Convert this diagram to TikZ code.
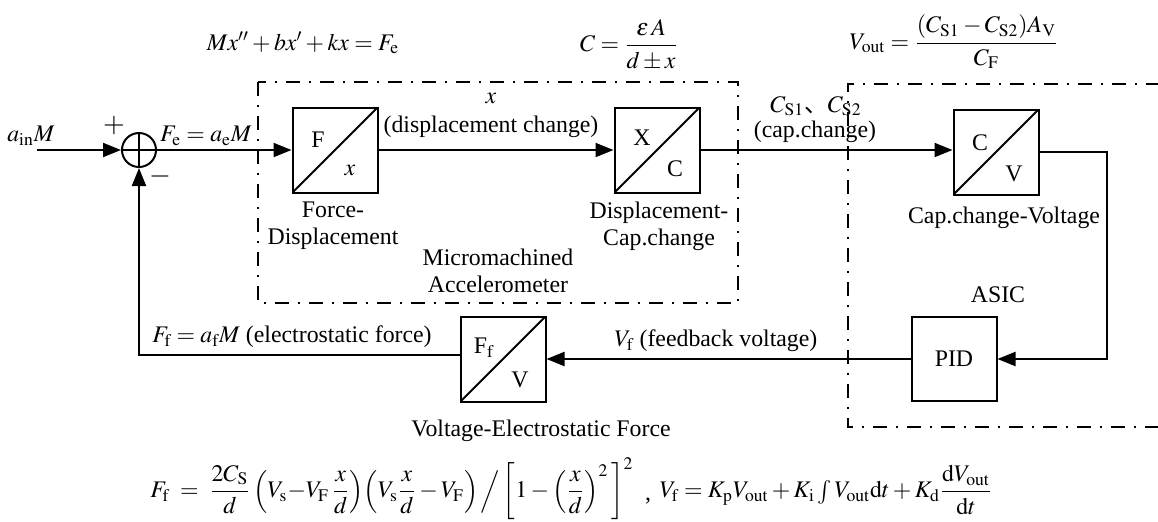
\documentclass[tikz,border=0pt]{standalone}
\usepackage{amsmath}
\usepackage{mathptmx}
\usepackage{fontspec}
\setmainfont{Liberation Serif}
\newfontfamily\cjk{Noto Sans CJK SC}
\usetikzlibrary{arrows.meta}

\tikzset{
  conv/.style={draw,line width=1pt,minimum size=42.5pt,inner sep=0pt,
    path picture={\draw[line width=1pt] (path picture bounding box.south west) -- (path picture bounding box.north east);}},
  pidbox/.style={draw,line width=1pt,minimum width=42.5pt,minimum height=42pt,inner sep=0pt},
  sumnode/.style={draw,circle,line width=1pt,minimum size=17pt,inner sep=0pt,
    path picture={\draw[line width=1pt] (path picture bounding box.north) -- (path picture bounding box.south)
      (path picture bounding box.west) -- (path picture bounding box.east);}},
  sig/.style={line width=1pt,-{Triangle[length=9pt,width=7pt]}},
  region/.style={line width=1pt,dash pattern=on 7pt off 4.5pt on 1pt off 4.5pt},
  txt/.style={inner sep=0pt,align=center}
}

\begin{document}
\begin{tikzpicture}[x=0.5pt,y=-0.5pt,font=\fontsize{11.9}{13.5}\selectfont]
  \useasboundingbox (0,0) rectangle (1158,521);
  % equations
  \node[txt] (eqmotion) at (303,43) {$Mx'' + bx' + kx = F_\mathrm{e}$};
  \node[txt] (eqcap) at (629,45) {$C = \dfrac{\varepsilon\, A}{d \pm x}$};
  \node[txt] (eqvout) at (954,42) {$V_\mathrm{out} = \dfrac{(C_\mathrm{S1}-C_\mathrm{S2})A_\mathrm{V}}{C_\mathrm{F}}$};
  % regions
  \draw[region] (258,82) rectangle (738,303);
  \draw[region] (1160,84) -- (848,84) -- (848,427) -- (1160,427);
  % blocks
  \node[sumnode] (sum) at (139,150) {};
  \node[conv] (fx) at (335,150) {};
  \node[conv] (xc) at (657,150) {};
  \node[conv] (cv) at (996,152) {};
  \node[pidbox] (pid) at (954,359) {PID};
  \node[conv] (ff) at (503,359) {};
  \node[txt] (fxin) at (318,140) {F};
  \node[txt] (fxout) at (350,170) {$x$};
  \node[txt] (xcin) at (642,138) {X};
  \node[txt] (xcout) at (675,169) {C};
  \node[txt] (cvin) at (980,143) {C};
  \node[txt] (cvout) at (1014,174) {V};
  \node[txt] (ffin) at (484,348) {F$_\mathrm{f}$};
  \node[txt] (ffout) at (520,380) {V};
  % labels
  \node[txt] (ain) at (31,136) {$a_\mathrm{in}M$};
  \node[txt] (plus) at (114,125) {\fontsize{14}{14}\selectfont $+$};
  \node[txt] (minus) at (160,176) {\fontsize{14}{14}\selectfont $-$};
  \node[txt] (fe) at (206,136) {$F_\mathrm{e} = a_\mathrm{e}M$};
  \node[txt] (xsym) at (491,98) {$x$};
  \node[txt] (xname) at (491,127) {(displacement change)};
  \node[txt] (cs) at (816,106) {$C_\mathrm{S1}${\cjk 、}$C_\mathrm{S2}$};
  \node[txt] (csname) at (815,132) {(cap.change)};
  \node[txt] (fxname) at (333,226) {Force-\\Displacement};
  \node[txt] (xcname) at (659,226) {Displacement-\\Cap.change};
  \node[txt] (mems) at (498,271) {Micromachined\\Accelerometer};
  \node[txt] (cvname) at (1004,218) {Cap.change-Voltage};
  \node[txt] (asic) at (998,295) {ASIC};
  \node[txt] (fname) at (292,337) {$F_\mathrm{f} = a_\mathrm{f}M$ (electrostatic force)};
  \node[txt] (vname) at (716,341) {$V_\mathrm{f}$ (feedback voltage)};
  \node[txt] (ffname) at (541,431) {Voltage-Electrostatic Force};
  \node[txt] (eqforce) at (392,489) {$F_\mathrm{f} \;=\; \dfrac{2C_\mathrm{S}}{d}\left(V_\mathrm{s}{-}V_\mathrm{F}\,\dfrac{x}{d}\right)\!\left(V_\mathrm{s}\dfrac{x}{d}-V_\mathrm{F}\right)\Big/\left[1-\left(\dfrac{x}{d}\right)^{2}\,\right]^{2}$};
  \node[txt] (sep) at (648,501) {,};
  \node[txt] (eqpid) at (826,490) {$V_\mathrm{f} = K_\mathrm{p}V_\mathrm{out} + K_\mathrm{i}\int V_\mathrm{out}\mathrm{d}t + K_\mathrm{d}\dfrac{\mathrm{d}V_\mathrm{out}}{\mathrm{d}t}$};
  % connectors
  \coordinate (in) at (37,150);
  \coordinate (turn) at (1107,250);
  \draw[sig] (in) -- (sum.west);
  \draw[sig] (sum.east) -- (fx.west);
  \draw[sig] (fx.east) -- (xc.west);
  \draw[sig] (xc.east) -- (xc.east -| cv.west);
  \draw[sig] (cv.east) -| (turn) |- (pid.east);
  \draw[sig] (pid.west) -- (ff.east);
  \draw[sig] ([yshift=2pt]ff.west) -| (sum.south);
\end{tikzpicture}
\end{document}
